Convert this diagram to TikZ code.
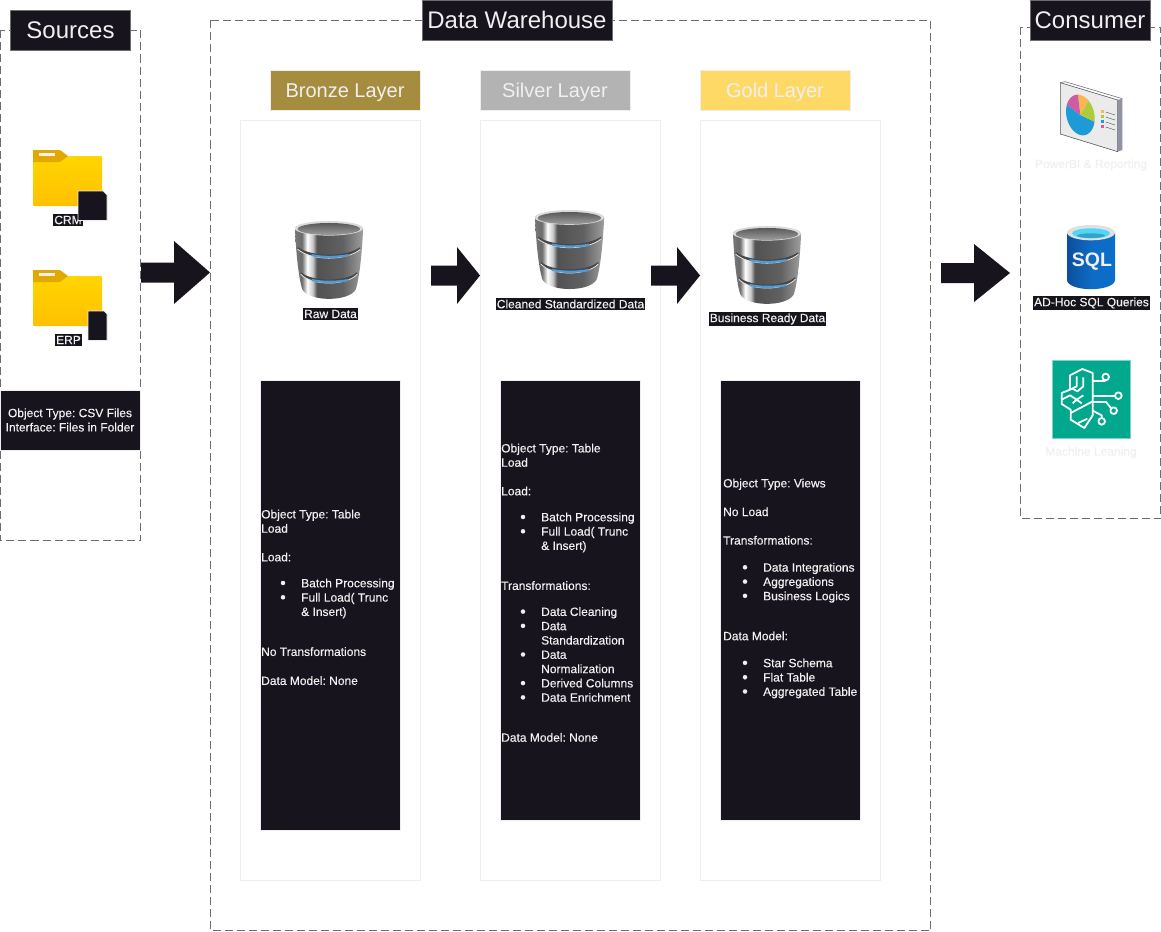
\documentclass[tikz,border=0pt]{standalone}
\usepackage{fontspec}
\setmainfont{Liberation Sans}
\newfontfamily\hintfont[FakeBold=0.25]{Liberation Sans}
\usetikzlibrary{calc}
\definecolor{ink}{HTML}{18141D}
\definecolor{pale}{HTML}{F0F0F0}
\definecolor{dashgray}{HTML}{6E6E6E}
\definecolor{panel}{HTML}{EEEEEE}
\definecolor{bronze}{HTML}{A68C3F}
\definecolor{silver}{HTML}{B3B3B3}
\definecolor{gold}{HTML}{FFD966}
\definecolor{pieblue}{HTML}{1E9BD7}
\definecolor{piegreen}{HTML}{AECB3B}
\definecolor{pieorange}{HTML}{F9B754}
\definecolor{piepink}{HTML}{CF5BA2}
\definecolor{sqla}{HTML}{0B4F9E}
\definecolor{sqlb}{HTML}{0B6ECB}
\definecolor{sqlc}{HTML}{0D6BC4}
\definecolor{sqld}{HTML}{52D6F5}
\definecolor{sqle}{HTML}{32A4C8}
\definecolor{mlgreen}{HTML}{01A88D}
\definecolor{mledge}{HTML}{7FD3C6}
\definecolor{foldera}{HTML}{FFD500}
\definecolor{folderb}{HTML}{FFC000}
\definecolor{foldertab}{HTML}{E0A800}
\definecolor{sidegray}{HTML}{8E94A3}
\definecolor{ringblue}{HTML}{4F9BD9}
\pgfdeclarehorizontalshading{dbbody}{100bp}{
 color(0bp)=(black!42);
 color(20bp)=(black!48);
 color(30bp)=(black!58);
 color(34bp)=(white);
 color(38bp)=(black!22);
 color(41bp)=(black!68);
 color(60bp)=(black!62);
 color(76bp)=(black!36);
 color(85bp)=(black!42);
 color(100bp)=(black!60)}
\tikzset{
 x=1pt,y=-1pt,
 zone/.style={draw=dashgray,line width=.8pt,dash pattern=on 8pt off 4pt},
 titlebox/.style={draw=dashgray,line width=.8pt,fill=ink,text=pale,minimum height=40pt,inner sep=0pt,font=\fontsize{24}{28}\selectfont},
 layerhead/.style={draw=panel,fill=#1,text=pale,minimum width=150pt,minimum height=40pt,inner sep=0pt,text height=16pt,text depth=0pt,font=\fontsize{20}{24}\selectfont},
 layerpanel/.style={draw=panel,fill=white,line width=.8pt},
 notebox/.style={fill=ink,draw=panel,line width=.5pt},
 note/.style={anchor=north west,align=left,text=pale,inner sep=0pt,font=\hintfont\frenchspacing\fontsize{12}{14.3}\selectfont},
 tag/.style={fill=ink,text=pale,inner xsep=1pt,inner ysep=1.5pt,font=\hintfont\frenchspacing\fontsize{12}{14}\selectfont},
 ghost/.style={text=pale,inner sep=0pt,font=\hintfont\frenchspacing\fontsize{12}{14}\selectfont},
 brain/.style={draw=white,line width=1.8pt,fill=none,line join=round},
}
\newcommand{\blt}[1]{\hspace*{19pt}\hbox to 21pt{\raisebox{-1pt}{\fontsize{16}{14}\selectfont\textbullet}\hss}#1}
\newcommand{\bltc}[1]{\hspace*{40pt}#1}
\newcommand{\bigarrow}[5]{% start, end, head length, half head, half shaft
 \fill[ink] let \p1=(#1),\p2=(#2) in
  (\x1,\y1+#5pt) -- (\x2-#3pt,\y1+#5pt) -- (\x2-#3pt,\y1+#4pt) -- (\x2,\y1)
  -- (\x2-#3pt,\y1-#4pt) -- (\x2-#3pt,\y1-#5pt) -- (\x1,\y1-#5pt) -- cycle;}
\newcommand{\dbicon}[3]{% left, top, scale; local box 205 x 236
 \begin{scope}[shift={(#1,#2)},scale=#3]
  \path[shading=dbbody] (0,22) .. controls (2,80) and (10,170) .. (22,206)
    .. controls (42,244) and (163,244) .. (183,206)
    .. controls (195,170) and (203,80) .. (205,22) -- cycle;
  \foreach \yy/\xa/\xb in {85/8/197,160/17/188}{
   \fill[black!72] (\xa,\yy) .. controls (50,\yy+36) and (155,\yy+36) .. (\xb,\yy)
     -- (\xb-1,\yy-6) .. controls (155,\yy+24) and (50,\yy+24) .. (\xa+1,\yy-6) -- cycle;
   \draw[black!6,line width=.7pt] (\xa,\yy) .. controls (50,\yy+36) and (155,\yy+36) .. (\xb,\yy);
   \draw[ringblue,line width=2.2pt,line cap=round] (52,\yy+18) .. controls (80,\yy+25) and (125,\yy+25) .. (160,\yy+18);
  }
  \fill[black!14] (102,22) ellipse [x radius=103,y radius=22];
  \shade[top color=black!65,bottom color=black!38] (102,24) ellipse [x radius=94,y radius=18];
 \end{scope}}
\newcommand{\foldericon}[1]{% top y of tab
 \begin{scope}[shift={(33,#1)}]
  \shade[top color=foldera,bottom color=folderb,rounded corners=1pt] (0,6) -- (69,6) -- (69,56) -- (0,56) -- cycle;
  \fill[rounded corners=.6pt,fill=foldertab] (0,0) -- (27,0) -- (35,6) -- (27,12) -- (0,12) -- cycle;
  \fill[pale] (6,3) rectangle (22,6.2);
 \end{scope}}
\newcommand{\slicepath}[3]{\fill[#3] (181,135) -- plot[domain=#1:#2,samples=24,variable=\t] ({181+43*cos(\t)},{135-60*sin(\t)+11*cos(\t)}) -- cycle;}
\begin{document}
\begin{tikzpicture}
\useasboundingbox (0,0) rectangle (1161,931);
\fill[white] (0,0) rectangle (1161,931);

% --- zones
\draw[zone] (.5,30.5) rectangle (140.5,540.5);
\draw[zone] (210.5,20.5) rectangle (930.5,930.5);
\draw[zone] (1020.5,27.5) rectangle (1160.5,518.5);
\node[titlebox,minimum width=120pt] (tsrc) at (70.5,30.5) {Sources};
\node[titlebox,minimum width=190pt] (tdw) at (517,20) {Data Warehouse};
\node[titlebox,minimum width=120pt] (tcon) at (1090,20) {Consumer};

% --- layer panels
\draw[layerpanel] (240.5,120.5) rectangle (420.5,880.5);
\draw[layerpanel] (480.5,120.5) rectangle (660.5,880.5);
\draw[layerpanel] (700.5,120.5) rectangle (880.5,880.5);
\node[layerhead=bronze] (hb) at (345,90) {Bronze Layer};
\node[layerhead=silver] (hs) at (555,90) {Silver Layer};
\node[layerhead=gold] (hg) at (775,90) {Gold Layer};

% --- sources
\foldericon{150}
\foldericon{270}
\node[tag] (crm) at (68,220) {CRM};
\node[tag] (erp) at (68.5,340) {ERP};
\fill[ink,draw=panel,line width=.7pt] (78,191) -- (103,191) -- (107,195) -- (107,220.5) -- (78,220.5) -- cycle;
\fill[ink,draw=panel,line width=.7pt] (88,311) -- (104,311) -- (107,314) -- (107,340.5) -- (88,340.5) -- cycle;
\fill[notebox] (.5,390.5) rectangle (140.5,450.5);
\node[align=center,text=pale,inner sep=0pt,font=\hintfont\frenchspacing\fontsize{12}{14.3}\selectfont] (srcnote) at (70,420) {Object Type: CSV Files\\Interface: Files in Folder};

% --- databases
\dbicon{295}{221}{.332}
\dbicon{535}{210}{.337}
\dbicon{733}{226}{.332}
\node[tag] (rawd) at (330.5,314) {Raw Data};
\node[tag] (clean) at (570.5,304) {Cleaned Standardized Data};
\node[tag] (biz) at (767.5,319) {Business Ready Data};

% --- note boxes
\fill[notebox] (260.5,380.5) rectangle (400.5,830.5);
\fill[notebox] (500.5,380.5) rectangle (640.5,820.5);
\fill[notebox] (720.5,380.5) rectangle (860.5,820.5);
\node[note] (nb) at (261,509.5) {Object Type: Table\\Load\\[14.3pt]Load:\\[11.7pt]
 \blt{Batch Processing}\\\blt{Full Load( Trunc}\\\bltc{\& Insert)}\\[25.7pt]
 No Transformations\\[14.7pt]Data Model: None};
\node[note] (ns) at (501,443.5) {Object Type: Table\\Load\\[14.3pt]Load:\\[11.7pt]
 \blt{Batch Processing}\\\blt{Full Load( Trunc}\\\bltc{\& Insert)}\\[25.7pt]
 Transformations:\\[11.7pt]\blt{Data Cleaning}\\\blt{Data}\\\bltc{Standardization}\\\blt{Data}\\\bltc{Normalization}\\\blt{Derived Columns}\\\blt{Data Enrichment}\\[25.7pt]
 Data Model: None};
\node[note] (ng) at (723,478.5) {Object Type: Views\\[14.3pt]No Load\\[14.3pt]Transformations:\\[12.7pt]
 \blt{Data Integrations}\\\blt{Aggregations}\\\blt{Business Logics}\\[25.7pt]
 Data Model:\\[12.7pt]\blt{Star Schema}\\\blt{Flat Table}\\\blt{Aggregated Table}};

% --- block arrows
\coordinate (a1s) at (141,272.5); \coordinate (a1e) at (210,272.5);
\coordinate (a2s) at (431,275.5); \coordinate (a2e) at (480,275.5);
\coordinate (a3s) at (651,275.5); \coordinate (a3e) at (700,275.5);
\coordinate (a4s) at (941,273);   \coordinate (a4e) at (1010,273);
\bigarrow{a1s}{a1e}{36}{31.5}{10}
\bigarrow{a2s}{a2e}{23}{28.5}{10}
\bigarrow{a3s}{a3e}{23}{28.5}{10}
\bigarrow{a4s}{a4e}{36}{29}{10}

% --- report icon (zoom units)
\begin{scope}[shift={(1020,70)},scale=1/3]
 \fill[sidegray] (293,90) -- (307,86) -- (307,240) -- (293,245) -- cycle;
 \fill[black!8,draw=black!65,line width=.6pt] (121,38) -- (293,90) -- (293,245) -- (121,192) -- cycle;
 \draw[black!55,line width=.6pt] (121,38) -- (135,35) -- (307,86);
 \slicepath{160}{351}{pieblue}
 \slicepath{-9}{56}{piegreen}
 \slicepath{56}{100}{pieorange}
 \slicepath{100}{160}{piepink}
 \foreach \yy/\cc in {125/pieorange,140/piegreen,155/pieblue,170/piepink}{
  \fill[\cc] (243,\yy-5) rectangle (251,\yy+3);
  \draw[black!60,line width=.5pt] (257,\yy+1) -- (285,\yy+10);
 }
\end{scope}
\node[ghost] (pbi) at (1091,165) {PowerBI \& Reporting};

% --- SQL icon
\begin{scope}[shift={(1020,70)},scale=1/3]
 \shade[left color=sqla,right color=sqlb,middle color=sqlc] (141,488) -- (141,632) .. controls (150,666) and (276,666) .. (285,632) -- (285,488) -- cycle;
 \fill[black!12] (213,488) ellipse [x radius=72,y radius=23];
 \fill[sqld] (213,490) ellipse [x radius=57,y radius=15];
 \fill[sqle] (213,497) ellipse [x radius=42,y radius=7];
\end{scope}
\node[text=pale,inner sep=0pt,font=\fontsize{19.5}{22}\selectfont\bfseries] (sqlt) at (1092,262) {SQL};
\node[tag] (adhoc) at (1091.5,303) {AD-Hoc SQL Queries};

% --- ML icon
\fill[mlgreen,draw=mledge,line width=.7pt] (1052.5,360.5) rectangle (1130.5,438.5);
\begin{scope}[shift={(1050,358)},scale=1/3]
 \draw[brain] (60,95) -- (60,52) -- (97,33) -- (128,45) -- (128,172) -- (103,210) -- (62,185) -- (62,155) -- (35,138) -- (35,105) -- (60,95);
 \draw[brain] (80,55) -- (80,85) -- (60,95);
 \draw[brain] (100,58) -- (100,85) -- (82,100) -- (68,92);
 \draw[brain] (35,125) -- (60,112) -- (80,125) -- (100,112);
 \draw[brain] (80,125) -- (68,136);
 \draw[brain] (80,125) -- (95,136);
 \draw[brain] (62,165) -- (128,130);
 \draw[brain] (85,195) -- (112,182);
 \draw[brain] (128,70) -- (165,70) -- (165,66);
 \draw[brain] (167,57) circle [radius=10];
 \draw[brain] (128,113) -- (195,113);
 \draw[brain] (205,113) circle [radius=10];
 \draw[brain] (128,132) -- (168,132) -- (183,150);
 \draw[brain] (191,158) circle [radius=10];
 \draw[brain] (128,158) -- (155,172) -- (155,180);
 \draw[brain] (155,190) circle [radius=10];
\end{scope}
\node[ghost] (ml) at (1091,452.5) {Machine Leaning};
\end{tikzpicture}
\end{document}
